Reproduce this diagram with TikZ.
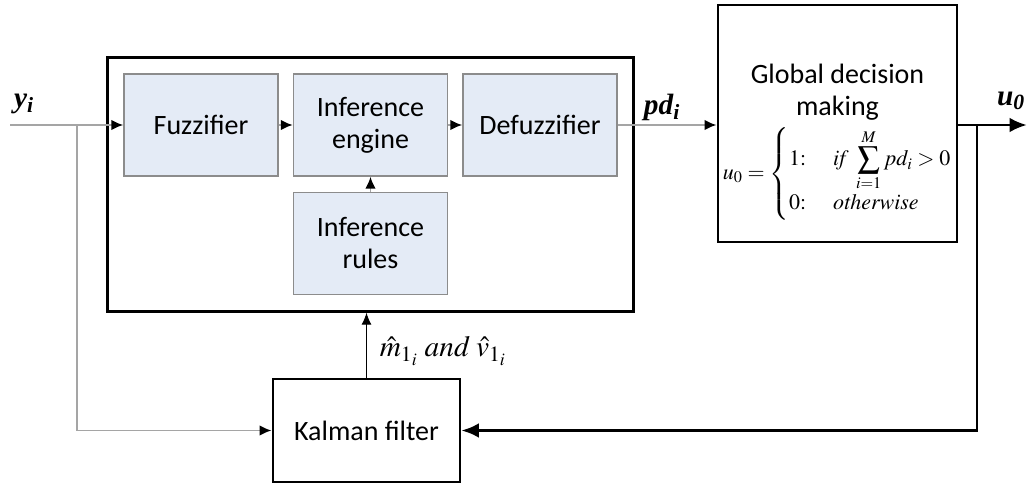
\documentclass[tikz,border=0pt]{standalone}
\usepackage{amsmath}
\usepackage{mathptmx}
\usepackage[no-math]{fontspec}
\setmainfont{Carlito}
\newfontfamily\tnr{Liberation Serif}
\usetikzlibrary{arrows.meta}
\usetikzlibrary{fit}

\definecolor{blockfill}{RGB}{228,235,246}
\definecolor{blockline}{RGB}{140,140,140}
\definecolor{sigline}{RGB}{165,165,165}

\newcommand{\siglabel}[2]{{\tnr\bfseries\itshape #1\textsubscript{#2}}}

\tikzset{
    block/.style={draw=blockline, fill=blockfill, line width=1.1pt, align=center,
        minimum width=115.5pt, minimum height=76.5pt, font=\fontsize{21}{24}\selectfont},
    bigbox/.style={draw=black, line width=2.2pt, align=center,
        font=\fontsize{21}{24}\selectfont},
    sig/.style={draw=sigline, line width=1.4pt, -{Latex[length=9pt,width=8pt,color=black]}},
    fb/.style={draw=black, line width=2.2pt, -{Latex[length=13pt,width=11pt]}},
    lbl/.style={inner sep=0pt, font=\fontsize{22}{24}\selectfont}
}

\begin{document}
\begin{tikzpicture}[x=0.75pt, y=-0.75pt]
    \useasboundingbox (0,0) rectangle (1029,485);

    % Declare the fuzzy blocks
    \node[block] at (201,125) (fuzz) {Fuzzifier};
    \node[block] at (370.5,125) (infeng) {Inference\\engine};
    \node[block] at (540,125) (defuzz) {Defuzzifier};
    \node[block] at (370.5,243.5) (infrules) {Inference\\rules};
    \node[bigbox, inner sep=12pt, fit=(fuzz)(infeng)(defuzz)(infrules)] (fls) {};

    % Declare the other boxes
    \node[bigbox, minimum width=179.25pt, minimum height=177.75pt] at (837.5,123.5) (global) {};
    \node[font=\fontsize{21}{24}\selectfont, align=center] at (837.5,92) (gtitle) {Global decision\\making};
    \node[inner sep=0pt, font=\fontsize{16.5}{19}\selectfont] at (837.5,174) (grule)
        {$u_0=\begin{cases}1{:}\; & \mathit{if}\ \displaystyle\sum_{i=1}^{M}pd_i>0\\[-2pt] 0{:}\; & \mathit{otherwise}\end{cases}$};
    \node[bigbox, minimum width=140.25pt, minimum height=77.25pt] at (366.5,430.5) (kalman) {Kalman filter};

    % Declare coordinates
    \coordinate (yin) at (10,125);
    \coordinate (ybr) at (77,125);
    \coordinate (uout) at (1027,125);
    \coordinate (ubr) at (977,125);

    % Declare edges
    \draw[sig] (yin) -- (fuzz.west);
    \draw[sig] (ybr) |- (kalman.west);
    \draw[sig] (fuzz) -- (infeng);
    \draw[sig] (infeng) -- (defuzz);
    \draw[sig] (infrules) -- (infeng);
    \draw[sig] (defuzz.east) -- (defuzz.east -| global.west);
    \draw[fb] (global.east |- uout) -- (uout);
    \draw[fb] (ubr) |- (kalman.east);
    \draw[black, line width=0.8pt, -{Latex[length=9pt,width=7.5pt]}] (kalman.north) -- (kalman.north |- fls.south);

    % Declare labels
    \node[lbl] at (24,104) (ylbl) {\siglabel{y}{i}};
    \node[lbl] at (662,107) (pdlbl) {\siglabel{pd}{i}};
    \node[lbl] at (1011,101) (ulbl) {\siglabel{u}{0}};
    \node[lbl] at (443,351) (mvlbl) {$\hat{m}_{1_i}\ \mathit{and}\ \hat{v}_{1_i}$};

\end{tikzpicture}
\end{document}
